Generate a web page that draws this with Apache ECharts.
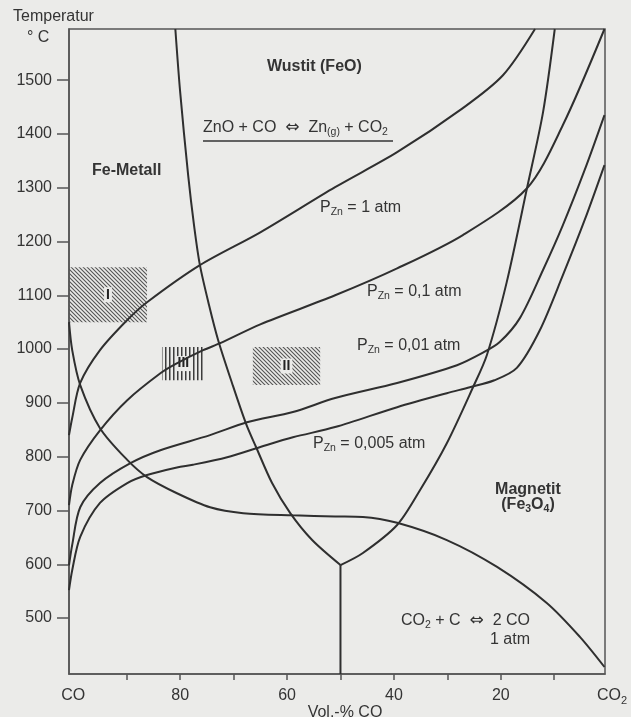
<!DOCTYPE html>
<html>
<head>
<meta charset="utf-8">
<script src="https://cdn.jsdelivr.net/npm/echarts@6/dist/echarts.min.js"></script>
<style>
  html, body { margin: 0; padding: 0; background: #ebebe9; }
  #chart { width: 631px; height: 717px; }
</style>
</head>
<body>
<div id="chart"></div>
<script>
// Fe–O–C / ZnO reduction diagram: gas composition (Vol.-% CO) vs temperature (°C).
// Every point is [Vol.-% CO, temperature in °C].

const X_MIN = 0.5;     // CO2 edge of the frame
const X_MAX = 100.8;   // CO edge of the frame
const T_MIN = 396;
const T_MAX = 1595;

const yTickValues = [500, 600, 700, 800, 900, 1000, 1100, 1200, 1300, 1400, 1500];
const xTickValues = [90, 80, 70, 60, 50, 40, 30, 20, 10];
const xLabelValues = [100, 80, 60, 40, 20, 0.5];

// Fe / FeO (Wüstit) boundary, from the top edge down to the triple point
const feWustit = [[80.9, 1595], [80.0, 1478], [78.5, 1323], [77.4, 1230], [76.3, 1156],
  [74.6, 1082], [72.9, 1017], [70.3, 937], [67.7, 862], [65.8, 818], [62.8, 751],
  [59.4, 695], [55.3, 645], [50, 598.5]];

// FeO / Fe3O4 (Magnetit) boundary, from the triple point up to the top edge
const wustitMagnetit = [[50, 598.5], [45.8, 621], [39.4, 673], [35.1, 738], [30.1, 825],
  [25.2, 929], [22.6, 989], [18.9, 1124], [15.1, 1299], [12.1, 1440], [9.9, 1595]];

// Fe / Fe3O4 boundary below the triple point
const feMagnetit = [[50, 598.5], [50, 396]];

// Boudouard equilibrium CO2 + C <=> 2 CO at 1 atm
const boudouard = [[100.8, 1050], [100.2, 998], [98.7, 933], [95.0, 853], [89.9, 794],
  [86.2, 762], [80.6, 732], [74.4, 706], [68.2, 695], [58.9, 691], [51.0, 689],
  [45.8, 688], [39.4, 677], [30.1, 645], [20.7, 595], [11.4, 528], [5.2, 465], [0.6, 409]];

// ZnO + CO <=> Zn(g) + CO2 equilibria for several zinc partial pressures
const pZn1 = [[100.8, 840], [100.2, 872], [98.7, 937], [95.0, 998],
  [89.9, 1054], [86.2, 1087], [76.3, 1156], [65.0, 1217], [51.0, 1301], [39.4, 1366],
  [27.1, 1448], [19.6, 1509], [13.6, 1595]];

const pZn01 = [[100.8, 710], [100.2, 747], [98.7, 794], [95.0, 849], [89.9, 905],
  [83.7, 955], [80.9, 972], [75.7, 998], [72.5, 1011], [65.0, 1046], [51.0, 1100],
  [39.4, 1150], [27.1, 1212], [15.1, 1299], [8.4, 1416], [0.6, 1595]];

const pZn001 = [[100.8, 598], [100.2, 636], [98.7, 706], [95.0, 751], [89.3, 788],
  [83.7, 812], [74.4, 840], [67.5, 864], [58.9, 883], [51.0, 909], [39.4, 937],
  [28.2, 970], [23.4, 993], [20.2, 1013], [16.4, 1058], [12.1, 1147], [8.4, 1230],
  [4.3, 1333], [0.6, 1435]];

const pZn0005 = [[100.8, 552], [100.2, 589], [98.7, 651], [95.0, 714], [89.9, 751],
  [86.2, 766], [80.6, 780], [77.6, 785], [71.2, 799], [65.0, 818], [58.9, 836],
  [51.0, 855], [39.4, 892], [30.1, 918], [25.8, 929], [21.2, 942], [17.0, 965],
  [12.7, 1035], [8.4, 1137], [4.3, 1240], [0.6, 1342]];

// Operating windows I, II, III: [[CO from, T top], [CO to, T bottom]]
const zoneI = [[100.8, 1152], [86.2, 1050]];
const zoneII = [[66.4, 1004], [53.8, 933]];
const zoneIII = [[83.4, 1004], [75.4, 942]];

const FONT = '"Liberation Sans", Arial, Helvetica, sans-serif';
const SYMBOL_FONT = '"DejaVu Sans", sans-serif';
const INK = '#343434';
const LINE = '#2f2f2f';
const PAPER = '#ebebe9';

function hatch(kind) {
  const c = document.createElement('canvas');
  c.width = 4; c.height = 4;
  const g = c.getContext('2d');
  if (kind === 'diag') {
    g.strokeStyle = '#555555';
    g.lineWidth = 1.1;
    g.beginPath();
    g.moveTo(-1, -1); g.lineTo(5, 5);
    g.moveTo(-1, 3); g.lineTo(1, 5);
    g.moveTo(3, -1); g.lineTo(5, 1);
    g.stroke();
  } else {
    g.fillStyle = '#3c3c3c';
    g.fillRect(1, 0, 1.5, 4);
  }
  return { image: c, repeat: 'repeat' };
}

function curve(name, data) {
  return {
    name, type: 'line', data, showSymbol: false, symbol: 'none', smooth: 0.3,
    silent: true, lineStyle: { color: LINE, width: 2 }, z: 3
  };
}

function zone(label, rect, pattern) {
  return [{
    coord: rect[0], itemStyle: { color: pattern, opacity: 1 },
    label: {
      show: true, position: 'inside', formatter: label, color: '#222', fontSize: 14,
      fontWeight: 'bold', fontFamily: FONT, backgroundColor: PAPER, padding: [1, 2, 0, 2]
    }
  }, { coord: rect[1] }];
}

const main = { fontSize: 16, fontFamily: FONT, color: INK };
const sub = { fontSize: 10.5, fontFamily: FONT, color: INK, padding: [9, 0, 0, 0] };
const arrow = { fontSize: 17, fontFamily: SYMBOL_FONT, color: INK };
const richText = { m: main, s: sub, a: arrow };
const bold = { fontSize: 16, fontFamily: FONT, color: INK, fontWeight: 'bold' };
const boldSub = { fontSize: 10.5, fontFamily: FONT, color: INK, fontWeight: 'bold', padding: [8, 0, 0, 0] };

function text(x, y, str, align, rich) {
  return {
    type: 'text', x, y, silent: true, z: 10,
    style: { text: str, rich: rich || richText, align: align || 'left', verticalAlign: 'middle', fill: INK, font: '16px ' + FONT }
  };
}

const chart = echarts.init(document.getElementById('chart'), null, { renderer: 'canvas' });

chart.setOption({
  animation: false,
  backgroundColor: PAPER,
  grid: {
    left: 69, right: 26, top: 29, bottom: 43, show: true,
    borderColor: '#555', borderWidth: 1.5, backgroundColor: 'transparent',
    containLabel: false, outerBoundsMode: 'none'
  },
  xAxis: {
    type: 'value', inverse: true, min: X_MIN, max: X_MAX,
    axisLine: { show: true, onZero: false, lineStyle: { color: '#555', width: 1.5 } },
    axisTick: { show: true, customValues: xTickValues, length: 6, lineStyle: { color: '#555', width: 1.5 } },
    axisLabel: {
      customValues: xLabelValues, margin: 14, fontSize: 16, fontFamily: FONT, color: INK,
      formatter: v => v >= 99 ? '{n|CO}' : (v < 1 ? '{c|CO}{s|2}' : '{n|' + Math.round(v) + '}'),
      rich: {
        n: { fontSize: 16, fontFamily: FONT, color: INK },
        c: { fontSize: 16, fontFamily: FONT, color: INK, padding: [0, 0, 6, 14] },
        s: { fontSize: 11, fontFamily: FONT, color: INK, padding: [4, 0, 0, 0] }
      }
    },
    splitLine: { show: false },
    name: 'Vol.-% CO', nameLocation: 'middle', nameGap: 31, nameMoveOverlap: false,
    nameTextStyle: { fontSize: 16, fontFamily: FONT, color: INK, padding: [0, 0, 0, 16] }
  },
  yAxis: {
    type: 'value', min: T_MIN, max: T_MAX,
    axisLine: { show: true, onZero: false, lineStyle: { color: '#555', width: 1.5 } },
    axisTick: { show: true, customValues: yTickValues, length: 12, lineStyle: { color: '#555', width: 1.5 } },
    axisLabel: {
      customValues: yTickValues, margin: 17, fontSize: 16, fontFamily: FONT, color: INK,
      formatter: v => String(v)
    },
    splitLine: { show: false }
  },
  series: [
    {
      name: 'Zonen', type: 'line', data: [], silent: true, z: 2,
      markArea: {
        silent: true,
        data: [
          zone('I', zoneI, hatch('diag')),
          zone('II', zoneII, hatch('diag')),
          zone('III', zoneIII, hatch('vert'))
        ]
      }
    },
    curve('Fe/FeO', feWustit),
    curve('FeO/Fe3O4', wustitMagnetit),
    curve('Fe/Fe3O4', feMagnetit),
    curve('Boudouard', boudouard),
    curve('pZn 1 atm', pZn1),
    curve('pZn 0,1 atm', pZn01),
    curve('pZn 0,01 atm', pZn001),
    curve('pZn 0,005 atm', pZn0005)
  ],
  graphic: [
    text(13, 17, '{m|Temperatur}'),
    text(27, 38, '{m|° C}'),
    text(92, 171, '{b|Fe-Metall}', 'left', { b: bold }),
    text(267, 67, '{b|Wustit (FeO)}', 'left', { b: bold }),
    text(203, 128, '{m|ZnO + CO  }{a|⇔}{m|  Zn}{s|(g)}{m| + CO}{s|2}'),
    { type: 'line', silent: true, z: 10, shape: { x1: 203, y1: 141, x2: 393, y2: 141 }, style: { stroke: INK, lineWidth: 1.3 } },
    text(320, 208, '{m|P}{s|Zn}{m| = 1 atm}'),
    text(367, 292, '{m|P}{s|Zn}{m| = 0,1 atm}'),
    text(357, 346, '{m|P}{s|Zn}{m| = 0,01 atm}'),
    text(313, 444, '{m|P}{s|Zn}{m| = 0,005 atm}'),
    text(528, 490, '{b|Magnetit}', 'center', { b: bold }),
    text(528, 505, '{b|(Fe}{bs|3}{b|O}{bs|4}{b|)}', 'center', { b: bold, bs: boldSub }),
    text(530, 621, '{m|CO}{s|2}{m| + C  }{a|⇔}{m|  2 CO}', 'right'),
    text(530, 640, '{m|1 atm}', 'right')
  ]
});
</script>
</body>
</html>
